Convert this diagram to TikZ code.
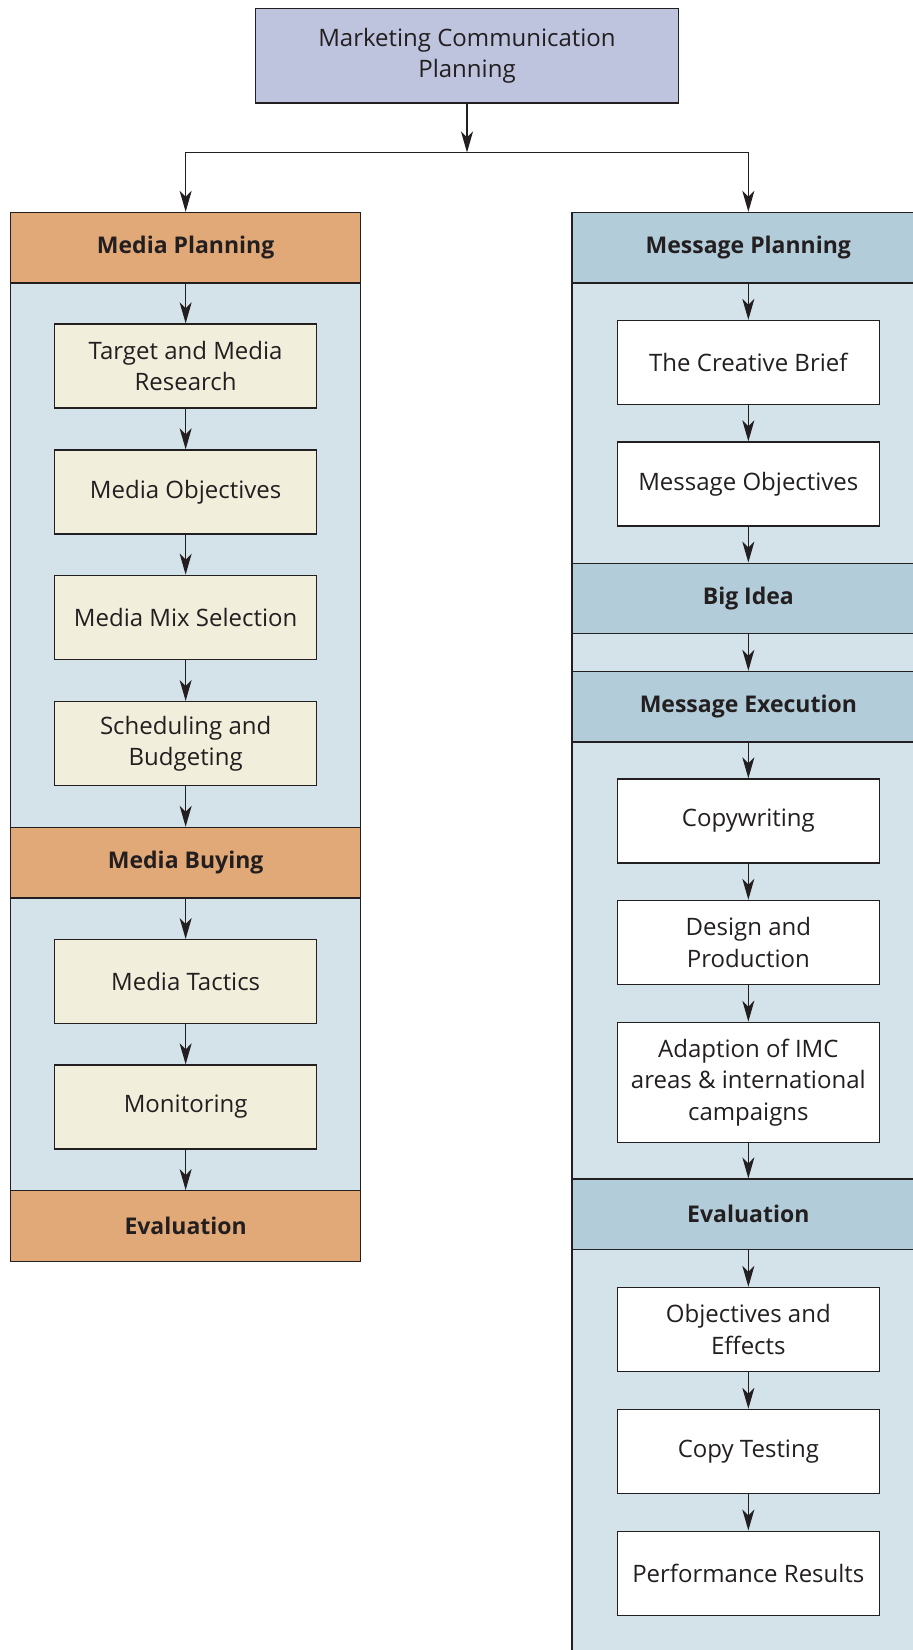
\documentclass[tikz,border=0pt]{standalone}
\usepackage{fontspec}
\setmainfont{Open Sans}
\usetikzlibrary{arrows.meta}
\definecolor{topfill}{HTML}{BEC3DE}
\definecolor{orangefill}{HTML}{E2A978}
\definecolor{panelfill}{HTML}{D4E3EA}
\definecolor{creamfill}{HTML}{F1EEDC}
\definecolor{rheadfill}{HTML}{B3CCD9}
\definecolor{linecol}{HTML}{231F20}
\tikzset{
  base/.style={draw=linecol, line width=1.3pt, inner sep=0pt, align=center,
    font=\fontsize{24}{31.5}\selectfont, text=linecol},
  topbox/.style={base, fill=topfill, minimum width=422.8pt, minimum height=94.7pt},
  lhead/.style={base, fill=orangefill, minimum width=350.3pt, minimum height=70.5pt, font=\fontsize{23}{31.5}\selectfont\bfseries},
  rhead/.style={base, fill=rheadfill, minimum width=352pt, minimum height=70.5pt, font=\fontsize{23}{31.5}\selectfont\bfseries},
  lbox/.style={base, fill=creamfill, minimum width=262pt, minimum height=84pt},
  rbox/.style={base, fill=white, minimum width=262pt, minimum height=84pt},
  panel/.style={draw=linecol, line width=1.3pt, fill=panelfill},
  arr/.style={draw=linecol, line width=1.3pt, -{Stealth[length=21pt, width=12pt, inset=6pt]}},
}
\begin{document}
\begin{tikzpicture}[x=1pt,y=-1pt]
\useasboundingbox (0,0) rectangle (913,1650);
\clip (0,0) rectangle (913,1650);
% panels
\draw[panel] (10.5,212.5) rectangle (360.8,1261);
\draw[panel] (572,212.5) rectangle (940,1700);
% top
\node[topbox] (top) at (467,55.75) {Marketing Communication\\Planning};
\coordinate (j) at (467,152.5);
% left column
\node[lhead] (mp) at (185.65,247.75) {Media Planning};
\node[lbox] (t1) at (185.65,366) {Target and Media\\Research};
\node[lbox] (t2) at (185.65,492) {Media Objectives};
\node[lbox] (t3) at (185.65,617.3) {Media Mix Selection};
\node[lbox] (t4) at (185.65,743.6) {Scheduling and\\Budgeting};
\node[lhead] (mb) at (185.65,862.7) {Media Buying};
\node[lbox] (t5) at (185.65,981.7) {Media Tactics};
\node[lbox] (t6) at (185.65,1107) {Monitoring};
\node[lhead] (ev1) at (185.65,1226) {Evaluation};
% right column
\node[rhead] (msgp) at (748.35,247.75) {Message Planning};
\node[rbox] (r1) at (748.35,362.5) {The Creative Brief};
\node[rbox] (r2) at (748.35,484) {Message Objectives};
\node[rhead] (bi) at (748.35,598.5) {Big Idea};
\node[rhead] (me) at (748.35,706.7) {Message Execution};
\node[rbox] (r3) at (748.35,821) {Copywriting};
\node[rbox] (r4) at (748.35,942.4) {Design and\\Production};
\node[rbox, minimum height=120pt] (r5) at (748.35,1082.3) {Adaption of IMC\\areas \& international\\campaigns};
\node[rhead] (ev2) at (748.35,1214.3) {Evaluation};
\node[rbox] (r6) at (748.35,1329.5) {Objectives and\\Effects};
\node[rbox] (r7) at (748.35,1451.5) {Copy Testing};
\node[rbox] (r8) at (748.35,1573.2) {Performance Results};
% connectors
\draw[arr] (top) -- (j);
\draw[arr] (j) -| (mp.north);
\draw[arr] (j) -| (msgp.north);
\draw[arr] (mp) -- (t1);
\draw[arr] (t1) -- (t2);
\draw[arr] (t2) -- (t3);
\draw[arr] (t3) -- (t4);
\draw[arr] (t4) -- (mb);
\draw[arr] (mb) -- (t5);
\draw[arr] (t5) -- (t6);
\draw[arr] (t6) -- (ev1);
\draw[arr] (msgp) -- (r1);
\draw[arr] (r1) -- (r2);
\draw[arr] (r2) -- (bi);
\draw[arr] (bi) -- (me);
\draw[arr] (me) -- (r3);
\draw[arr] (r3) -- (r4);
\draw[arr] (r4) -- (r5);
\draw[arr] (r5) -- (ev2);
\draw[arr] (ev2) -- (r6);
\draw[arr] (r6) -- (r7);
\draw[arr] (r7) -- (r8);
\end{tikzpicture}
\end{document}
